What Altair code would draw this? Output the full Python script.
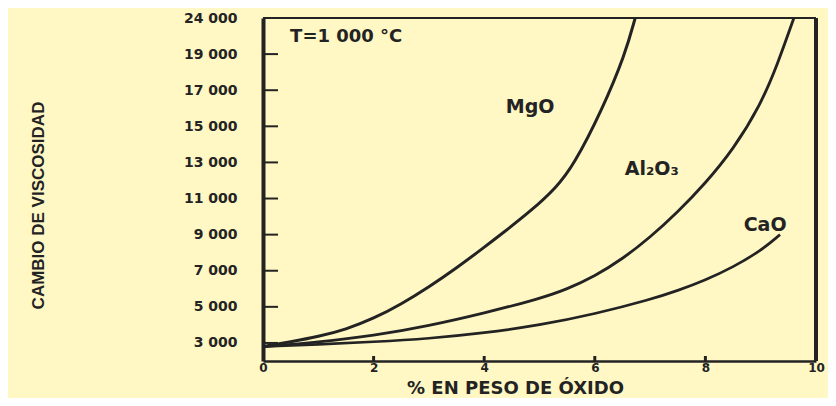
import altair as alt
import pandas as pd

# ---- data ----
series_names = ["MgO", "Al2O3", "CaO"]

mgo_x = [0, 0.5, 1, 1.5, 2, 2.5, 3, 3.5, 4, 4.3, 4.88, 5.3, 5.61, 6.13, 6.55, 6.73]
mgo_v = [2800, 3060, 3350, 3750, 4350, 5150, 6100, 7150, 8300, 9000, 10400, 11600, 12800, 15900, 19000, 21000]

al_x = [0, 1, 2, 3, 4, 5, 5.5, 6, 6.5, 7, 7.5, 8, 8.5, 9, 9.3, 9.6]
al_v = [2800, 3040, 3400, 3950, 4650, 5450, 5980, 6700, 7650, 8850, 10250, 11850, 13700, 16200, 18400, 21000]

cao_x = [0, 1, 2, 3, 4, 5, 6, 7, 7.5, 8, 8.5, 9, 9.35]
cao_v = [2800, 2920, 3060, 3240, 3550, 3980, 4600, 5400, 5900, 6480, 7200, 8100, 9000]

x_ticks = [0, 2, 4, 6, 8, 10]
y_ticks = [3000, 5000, 7000, 9000, 11000, 13000, 15000, 17000, 19000, 21000]
y_tick_labels = ["3 000", "5 000", "7 000", "9 000", "11 000", "13 000",
                 "15 000", "17 000", "19 000", "24 000"]

temp_text = ["T=1 000 °C"]
temp_x = [0.49]
temp_v = [19950]

curve_label_text = ["MgO", "Al₂O₃", "CaO"]
curve_label_x = [4.83, 7.03, 9.08]
curve_label_v = [16060, 12610, 9560]

x_title = "% EN PESO DE ÓXIDO"
y_title = "CAMBIO DE VISCOSIDAD"

# ---- build tables ----
rows = []
for name, xs_, vs_ in [("MgO", mgo_x, mgo_v), ("Al2O3", al_x, al_v), ("CaO", cao_x, cao_v)]:
    for i, (a, b) in enumerate(zip(xs_, vs_)):
        rows.append({"serie": name, "x": a, "v": b, "o": i})
curves = pd.DataFrame(rows)
ytick_df = pd.DataFrame({"v": y_ticks[:-1]})
xtick_df = pd.DataFrame({"x": x_ticks[1:-1]})
temp_df = pd.DataFrame({"t": temp_text, "x": temp_x, "v": temp_v})
clab_df = pd.DataFrame({"t": curve_label_text, "x": curve_label_x, "v": curve_label_v})
one = pd.DataFrame({"a": [0]})

label_expr = ""
for val, lab in zip(y_ticks, y_tick_labels):
    label_expr += f"datum.value == {val} ? '{lab}' : "
label_expr += "''"

INK = "#232323"
FONT = "DejaVu Sans"
W, H = 553, 343

xs = alt.Scale(domain=[0, 10], nice=False, zero=False)
ys = alt.Scale(domain=[2000, 21000], nice=False, zero=False)

x_axis = alt.Axis(values=x_ticks, format="d", grid=False, tickSize=0,
                  labelPadding=1, labelFont=FONT, labelFontWeight="bold",
                  labelFontSize=12, labelColor=INK, labelFlush=False,
                  labelOverlap=False,
                  domainColor=INK, domainWidth=2.5,
                  title=x_title, titleFont=FONT, titleFontWeight="bold",
                  titleFontSize=18, titleColor=INK, titleX=252, titleY=36,
                  titleBaseline="bottom", titleAlign="center")
y_axis = alt.Axis(values=y_ticks, labelExpr=label_expr, grid=False, tickSize=0,
                  labelPadding=26, labelFont=FONT, labelFontWeight="bold",
                  labelFontSize=14, labelColor=INK, labelOverlap=False,
                  domainColor=INK, domainWidth=4,
                  title=y_title, titleFont="Liberation Sans",
                  titleFontWeight="bold", titleFontSize=17, titleColor=INK,
                  titleAngle=270, titleX=-225, titleY=187,
                  titleBaseline="middle", titleAlign="center")


def X(field):
    return alt.X(field, scale=xs, axis=x_axis)


def Y(field):
    return alt.Y(field, scale=ys, axis=y_axis)


lines = alt.Chart(curves).mark_line(interpolate="basis", color=INK, clip=True).encode(
    x=X("x:Q"),
    y=Y("v:Q"),
    detail="serie:N",
    order="o:Q",
    strokeWidth=alt.StrokeWidth("serie:N", scale=alt.Scale(domain=series_names, range=[3, 2.7, 2.2]), legend=None),
)

yticks = alt.Chart(ytick_df).mark_rule(color=INK, strokeWidth=2).encode(
    y=Y("v:Q"), x=alt.value(0), x2=alt.value(15))
xticks = alt.Chart(xtick_df).mark_rule(color=INK, strokeWidth=3).encode(
    x=X("x:Q"), y=alt.value(H), y2=alt.value(H - 5))

top_rule = alt.Chart(one).mark_rule(color=INK, strokeWidth=1.8).encode(
    x=alt.value(0), x2=alt.value(W), y=alt.value(0))
right_rule = alt.Chart(one).mark_rule(color=INK, strokeWidth=4).encode(
    x=alt.value(W), y=alt.value(0), y2=alt.value(H))

temp_label = alt.Chart(temp_df).mark_text(font=FONT, fontWeight="bold", color=INK,
                                          baseline="middle", align="left", fontSize=18).encode(
    x=X("x:Q"), y=Y("v:Q"), text="t:N")
curve_labels = alt.Chart(clab_df).mark_text(font=FONT, fontWeight="bold", color=INK,
                                            baseline="middle", align="center", fontSize=19).encode(
    x=X("x:Q"), y=Y("v:Q"), text="t:N")

chart = alt.layer(lines, yticks, xticks, top_rule, right_rule, temp_label, curve_labels).properties(
    width=W, height=H,
    background="#FFF8C4",
    padding={"left": 255, "top": 10, "right": 12, "bottom": 37},
    autosize=alt.AutoSizeParams(type="none"),
).configure_view(stroke=None)

chart.save("out.html", embed_options={"renderer": "svg", "actions": False})
